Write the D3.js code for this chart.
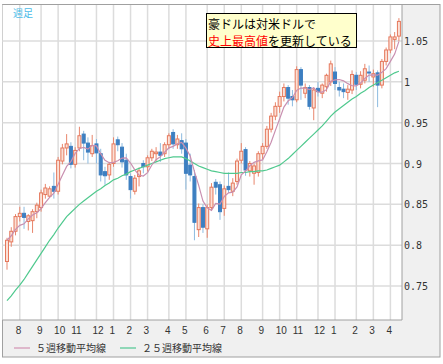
<!DOCTYPE html>
<html><head><meta charset="utf-8">
<script src="https://cdn.jsdelivr.net/npm/d3@7"></script>
<style>html,body{margin:0;padding:0;background:#fff;}svg{display:block;}</style>
</head><body><svg id="c" width="443" height="364"></svg>
<script>
// weekly AUD/USD, week of 2009-07-13 .. 2011-04-18
const opens  = [.780,.804,.817,.835,.839,.829,.830,.841,.846,.862,.860,.872,.866,.903,.919,.921,.899,.919,.936,.925,.912,.924,.912,.890,.886,.900,.929,.920,.904,.884,.866,.884,.900,.896,.907,.912,.914,.912,.923,.938,.923,.928,.925,.898,.884,.819,.846,.820,.846,.877,.874,.845,.872,.866,.878,.904,.917,.891,.888,.889,.912,.921,.942,.958,.970,.982,.993,.982,.978,1.015,.986,.993,.968,.992,.986,.994,1.000,1.012,.993,.991,.987,.990,1.008,.997,1.002,1.012,1.006,1.011,.996,1.025,1.039,1.052,1.056];
const highs  = [.809,.822,.838,.847,.847,.838,.844,.852,.868,.875,.872,.889,.908,.924,.936,.926,.920,.945,.940,.932,.935,.930,.918,.896,.902,.932,.933,.925,.912,.888,.886,.895,.904,.910,.918,.920,.925,.926,.937,.942,.935,.937,.930,.912,.892,.851,.850,.850,.876,.881,.878,.873,.889,.882,.906,.925,.920,.903,.900,.915,.925,.946,.962,.975,.988,.998,.996,.990,1.019,1.018,.998,.996,.993,1.000,.998,1.010,1.026,1.018,1.000,.998,.996,1.014,1.012,1.013,1.022,1.020,1.015,1.014,1.028,1.042,1.058,1.061,1.078];
const lows   = [.770,.798,.812,.829,.820,.818,.815,.833,.841,.857,.858,.857,.862,.899,.910,.894,.895,.915,.904,.900,.908,.900,.878,.874,.880,.896,.915,.895,.880,.857,.862,.872,.888,.890,.903,.902,.902,.908,.918,.918,.918,.912,.868,.878,.806,.810,.815,.809,.842,.862,.831,.836,.864,.860,.874,.900,.885,.884,.874,.884,.905,.918,.938,.953,.962,.976,.972,.970,.975,.978,.980,.966,.953,.982,.980,.988,.995,.990,.982,.980,.978,.985,.990,.992,.998,1.000,.994,.969,.992,1.020,1.035,1.040,1.050];
const closes = [.806,.817,.835,.839,.834,.836,.841,.849,.864,.870,.869,.866,.904,.919,.924,.899,.916,.934,.925,.914,.922,.913,.886,.885,.899,.924,.923,.902,.886,.868,.882,.891,.896,.907,.915,.914,.910,.923,.934,.924,.930,.918,.888,.886,.828,.846,.822,.846,.871,.871,.841,.869,.868,.876,.903,.915,.892,.900,.897,.912,.921,.942,.958,.970,.982,.993,.980,.978,1.015,.996,.993,.970,.990,.988,.996,1.008,1.022,.998,.990,.988,.991,1.009,.997,1.008,1.016,1.011,1.010,.996,1.025,1.039,1.055,1.055,1.074];
const ma25   = [.732,.738,.745,.751,.758,.766,.774,.782,.790,.798,.806,.813,.821,.828,.835,.840,.845,.850,.854,.858,.862,.866,.869,.873,.876,.880,.882,.885,.887,.890,.892,.894,.896,.898,.900,.902,.904,.906,.907,.908,.908,.908,.906,.903,.900,.897,.895,.893,.891,.890,.889,.888,.888,.888,.888,.889,.889,.890,.890,.891,.891,.892,.894,.896,.898,.902,.906,.911,.916,.921,.926,.931,.936,.941,.946,.952,.958,.963,.967,.971,.975,.979,.982,.986,.989,.993,.996,.999,1.002,1.005,1.008,1.011,1.013];
const monthTickIdx = [3,8,12,16,21,25,29,33,38,42,47,51,55,60,64,68,73,77,82,86,90];
const monthLabels  = ["8","9","10","11","12","1","2","3","4","5","6","7","8","9","10","11","12","1","2","3","4"];
const yTicks = [0.75,0.8,0.85,0.9,0.95,1,1.05];
const yTickLabels = ["0.75","0.8","0.85","0.9","0.95","1","1.05"];

const svg = d3.select("#c");
const N = closes.length;
const data = d3.range(N).map(i => ({i, o:opens[i], h:highs[i], l:lows[i], c:closes[i]}));
const ma5 = data.map((d,i) => d3.mean(closes.slice(Math.max(0,i-4), i+1)));

const plot = {l:2.5, t:4.5, r:402, b:320};
const x = d3.scaleBand().domain(d3.range(N)).range([4.87, 4.87 + N*4.26]).padding(0);
const cx = i => x(i) + x.bandwidth()/2;
const y = d3.scaleLinear().domain([0.75, 1.05]).range([286, 41]);

// outer background + frame
svg.append("rect").attr("x",2.5).attr("y",4.5).attr("width",437.5).attr("height",352.5)
  .attr("fill","#f0f0f0").attr("stroke","#a0a0a0").attr("stroke-width",1);
svg.append("rect").attr("x",plot.l).attr("y",plot.t).attr("width",plot.r-plot.l).attr("height",plot.b-plot.t)
  .attr("fill","#fff");

// grid
const g = svg.append("g");
g.selectAll("line.h").data(yTicks).join("line")
  .attr("x1",plot.l).attr("x2",plot.r).attr("y1",d=>y(d)).attr("y2",d=>y(d))
  .attr("stroke","#dcdcdc").attr("stroke-width",1.5);
g.selectAll("line.v").data(monthTickIdx).join("line")
  .attr("x1",d=>cx(d)).attr("x2",d=>cx(d)).attr("y1",plot.t).attr("y2",plot.b)
  .attr("stroke","#dcdcdc").attr("stroke-width",1.5);

// plot frame right/bottom
svg.append("path").attr("d",`M${plot.r},${plot.t}V${plot.b}H${plot.l}`).attr("fill","none").attr("stroke","#a0a0a0");
svg.append("path").attr("d",`M${plot.l},${plot.t}H440`).attr("fill","none").attr("stroke","#a0a0a0");

// candles
const cg = svg.append("g");
cg.selectAll("line.w").data(data).join("line")
  .attr("x1",d=>cx(d.i)).attr("x2",d=>cx(d.i)).attr("y1",d=>y(d.h)).attr("y2",d=>y(d.l))
  .attr("stroke",d=>d.c>=d.o?"#e8866c":"#8dbbe0").attr("stroke-width",1);
cg.selectAll("rect.b").data(data).join("rect")
  .attr("x",d=>cx(d.i)-1.5).attr("width",3)
  .attr("y",d=>y(Math.max(d.o,d.c))).attr("height",d=>Math.max(1,Math.abs(y(d.o)-y(d.c))))
  .attr("fill",d=>d.c>=d.o?"#fbe0d6":"#3d7fc1")
  .attr("stroke",d=>d.c>=d.o?"#e5785c":"#3d7fc1").attr("stroke-width",1);

// moving averages
const line = d3.line().x((d,i)=>cx(i)).y(d=>y(d));
svg.append("path").datum(ma25).attr("d",line).attr("fill","none").attr("stroke","#4fc98e").attr("stroke-width",1.2);
svg.append("path").datum(ma5).attr("d",line).attr("fill","none").attr("stroke","#c98fb0").attr("stroke-width",1.2);

// y labels
svg.selectAll("text.y").data(yTicks).join("text")
  .attr("x",404).attr("y",d=>y(d)+4).text((d,i)=>yTickLabels[i])
  .attr("font-family","DejaVu Sans Mono").attr("font-size",10).attr("fill","#333");
// x labels
svg.selectAll("text.x").data(monthTickIdx).join("text")
  .attr("x",d=>cx(d)-4).attr("y",334).attr("text-anchor","start").text((d,i)=>monthLabels[i])
  .attr("font-family","Liberation Sans").attr("font-size",10).attr("fill","#333");

// top-left label
svg.append("text").attr("x",13).attr("y",17).text("週足")
  .attr("font-family","Noto Sans CJK JP").attr("font-size",10).attr("fill","#4cbbe8");

// annotation box
svg.append("rect").attr("x",206.5).attr("y",13.5).attr("width",150).attr("height",34)
  .attr("fill","#ffffcc").attr("stroke","#000").attr("stroke-width",1);
svg.append("text").attr("x",208).attr("y",29).text("豪ドルは対米ドルで")
  .attr("font-family","Noto Sans CJK JP").attr("font-size",12).attr("fill","#000");
const t2 = svg.append("text").attr("x",208).attr("y",45.5)
  .attr("font-family","Noto Sans CJK JP").attr("font-size",12);
t2.append("tspan").attr("fill","#ff0000").text("史上最高値");
t2.append("tspan").attr("fill","#000").text("を更新している");

// legend
const leg = [{label:"５週移動平均線", color:"#d9a6bf", x:14}, {label:"２５週移動平均線", color:"#6fcfa5", x:120}];
svg.selectAll("line.lg").data(leg).join("line")
  .attr("x1",d=>d.x).attr("x2",d=>d.x+16).attr("y1",348).attr("y2",348).attr("stroke",d=>d.color).attr("stroke-width",1.5);
svg.selectAll("text.lg").data(leg).join("text")
  .attr("x",d=>d.x+22).attr("y",352).text(d=>d.label)
  .attr("font-family","Noto Sans CJK JP").attr("font-size",10).attr("fill","#333");
</script></body></html>
